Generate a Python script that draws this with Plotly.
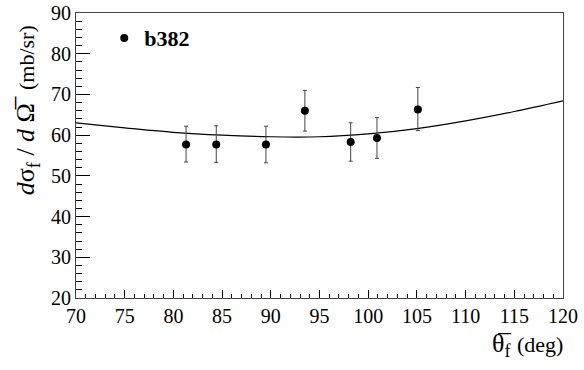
import plotly.graph_objects as go

# data points
theta = [81.3, 84.4, 89.5, 93.5, 98.2, 100.9, 105.1]
dsig = [57.7, 57.7, 57.7, 66.0, 58.3, 59.3, 66.3]
err_up = [4.5, 4.6, 4.5, 5.0, 4.75, 5.0, 5.4]
err_dn = [4.3, 4.4, 4.5, 5.0, 4.7, 5.0, 5.2]

# fit curve samples
curve_x = [70, 75, 80, 85, 90, 95, 100, 105, 110, 115, 120]
curve_y = [63.0, 61.8, 60.7, 60.0, 59.6, 59.6, 60.3, 61.6, 63.5, 65.8, 68.4]

series_name = "b382"
x_range = [70, 120]
y_range = [20, 90]

FONT = "Liberation Serif"

fig = go.Figure()
fig.add_trace(go.Scatter(
    x=curve_x, y=curve_y, mode="lines", line=dict(color="black", width=1.2, shape="spline"),
    showlegend=False, hoverinfo="skip"))
fig.add_trace(go.Scatter(
    x=theta, y=dsig, mode="markers", name=series_name,
    marker=dict(color="black", size=8, symbol="circle"),
    error_y=dict(type="data", symmetric=False, array=err_up, arrayminus=err_dn,
                 color="#444", thickness=1, width=2)))

fig.update_layout(
    width=584, height=370,
    margin=dict(l=76, r=21, t=13, b=72, autoexpand=False),
    paper_bgcolor="white", plot_bgcolor="white",
    font=dict(family=FONT, color="black"),
    showlegend=True,
    legend=dict(x=0.058, y=0.912, xanchor="left", yanchor="middle",
                bgcolor="rgba(0,0,0,0)", font=dict(family=FONT, size=22, color="black", weight="bold"),
                itemwidth=30),
)
fig.update_xaxes(
    range=x_range, tickmode="linear", tick0=70, dtick=5, automargin=False,
    ticks="inside", ticklen=8, tickwidth=1, tickcolor="black",
    minor=dict(ticks="inside", ticklen=4, dtick=1, tickcolor="black"),
    showline=True, linecolor="#444", linewidth=1, mirror=True,
    showgrid=False, zeroline=False,
    tickfont=dict(family=FONT, size=20, color="black"),
)
fig.update_yaxes(
    range=y_range, tickmode="linear", tick0=20, dtick=10, automargin=False,
    ticks="inside", ticklen=14, tickwidth=1, tickcolor="black",
    minor=dict(ticks="inside", ticklen=6, dtick=2, tickcolor="black"),
    showline=True, linecolor="#444", linewidth=1, mirror=True,
    showgrid=False, zeroline=False,
    tickfont=dict(family=FONT, size=20, color="black"),
)

fig.add_annotation(
    xref="paper", yref="paper", x=-0.10, y=0.66, xanchor="center", yanchor="middle",
    textangle=-90, showarrow=False,
    text="<i>d</i>σ<sub>f</sub> / <i>d</i> Ω\u0305  <span style='font-size:22px'>(mb/sr)</span>",
    font=dict(family=FONT, size=26, color="black"))
fig.add_annotation(
    xref="paper", yref="paper", x=1.004, y=-0.165, xanchor="right", yanchor="middle",
    showarrow=False,
    text="θ\u0305<sub>f</sub> <span style='font-size:22px'>(deg)</span>",
    font=dict(family=FONT, size=26, color="black"))

fig.write_html("out.html")
